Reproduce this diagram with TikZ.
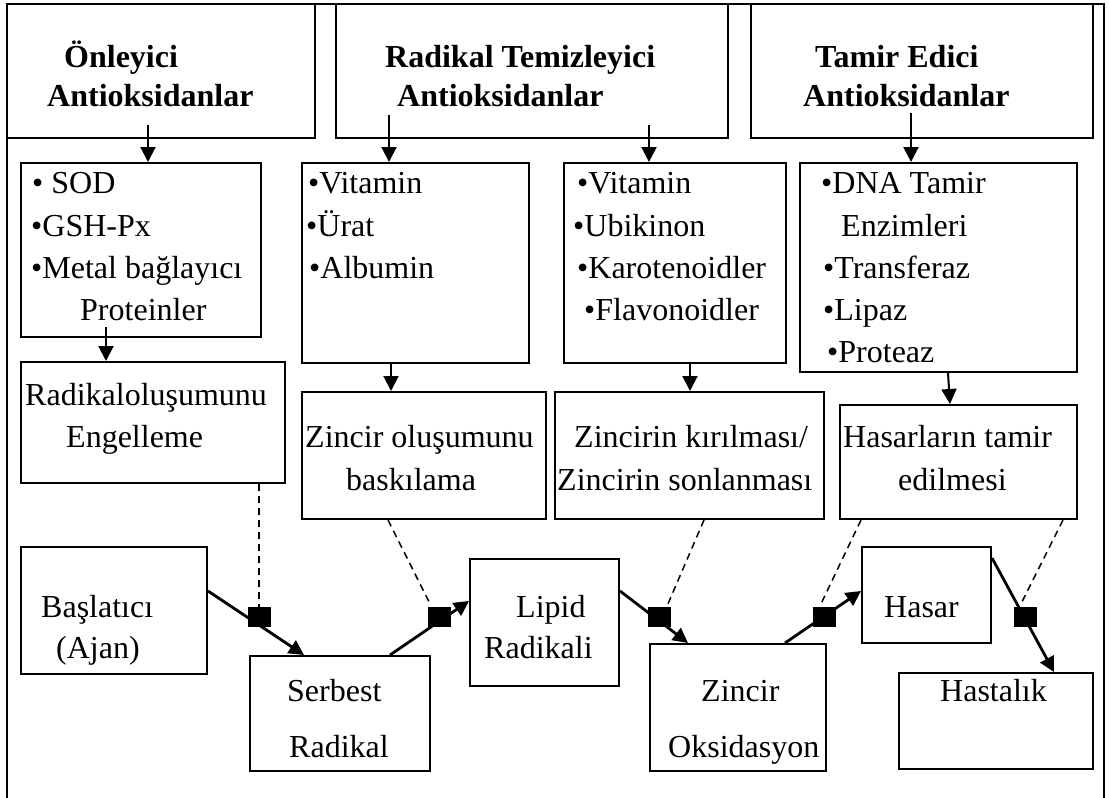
\documentclass[tikz,border=0pt]{standalone}
\usepackage{fontspec}
\setmainfont{Liberation Serif}
\usetikzlibrary{arrows.meta,fit,calc}
\begin{document}
\begin{tikzpicture}[x=1pt,y=-1pt,
  box/.style={draw, line width=2pt, inner sep=0pt},
  txt/.style={anchor=base west, inner sep=0pt, font=\fontsize{32}{38}\selectfont},
  hd/.style={anchor=base west, inner sep=0pt, font=\fontsize{32}{38}\selectfont\bfseries},
  down/.style={line width=2pt, -{Triangle[length=15pt,width=15pt]}},
  flow/.style={line width=2.8pt, -{Triangle[length=15pt,width=15pt]}},
  dsh/.style={line width=1.5pt, dash pattern=on 7pt off 5pt},
  sq/.style={fill=black, minimum width=23pt, minimum height=20pt, inner sep=0pt}]
\useasboundingbox (0,0) rectangle (1109,798);
% outer frame
\draw[line width=2pt] (7,798) -- (7,4) -- (1104,4) -- (1104,798);
% header boxes
\node[box, fit={(7,4)(315,138)}] (H1) {};
\node[box, fit={(336,4)(728,138)}] (H2) {};
\node[box, fit={(751,4)(1093,138)}] (H3) {};
\node[hd] at (64,67) {Önleyici};
\node[hd] at (47,106) {Antioksidanlar};
\node[hd] at (385,67) {Radikal Temizleyici};
\node[hd] at (397,106) {Antioksidanlar};
\node[hd] at (815,67) {Tamir Edici};
\node[hd] at (803,106) {Antioksidanlar};
% list boxes
\node[box, fit={(21,163)(261,337)}] (L1) {};
\node[box, fit={(302,163)(529,363)}] (L2) {};
\node[box, fit={(564,163)(786,363)}] (L3) {};
\node[box, fit={(800,163)(1077,372)}] (L4) {};
\node[txt] at (32,193) {• SOD};
\node[txt] at (31,236) {•GSH-Px};
\node[txt] at (31,278) {•Metal bağlayıcı};
\node[txt] at (80,320) {Proteinler};
\node[txt] at (308,193) {•Vitamin};
\node[txt] at (306,236) {•Ürat};
\node[txt] at (309,278) {•Albumin};
\node[txt] at (577,193) {•Vitamin};
\node[txt] at (573,236) {•Ubikinon};
\node[txt] at (577,278) {•Karotenoidler};
\node[txt] at (584,320) {•Flavonoidler};
\node[txt] at (821,193) {•DNA Tamir};
\node[txt] at (841,236) {Enzimleri};
\node[txt] at (823,278) {•Transferaz};
\node[txt] at (823,320) {•Lipaz};
\node[txt] at (827,362) {•Proteaz};
% result boxes
\node[box, fit={(21,362)(285,483)}] (R1) {};
\node[box, fit={(302,392)(546,519)}] (R2) {};
\node[box, fit={(555,392)(824,519)}] (R3) {};
\node[box, fit={(840,405)(1077,519)}] (R4) {};
\node[txt] at (25,405) {Radikaloluşumunu};
\node[txt] at (66,447) {Engelleme};
\node[txt] at (305,447) {Zincir oluşumunu};
\node[txt] at (346,490) {baskılama};
\node[txt] at (574,447) {Zincirin kırılması/};
\node[txt] at (557,490) {Zincirin sonlanması};
\node[txt] at (843,447) {Hasarların tamir};
\node[txt] at (898,490) {edilmesi};
% bottom chain boxes
\node[box, fit={(21,547)(207,674)}] (B) {};
\node[box, fit={(250,656)(430,771)}] (S) {};
\node[box, fit={(470,559)(619,686)}] (L) {};
\node[box, fit={(650,644)(826,771)}] (Z) {};
\node[box, fit={(862,547)(991,643)}] (H) {};
\node[box, fit={(899,673)(1093,769)}] (K) {};
\node[txt] at (41,617) {Başlatıcı};
\node[txt] at (56,658) {(Ajan)};
\node[txt] at (287,701) {Serbest};
\node[txt] at (289,757) {Radikal};
\node[txt] at (516,617) {Lipid};
\node[txt] at (484,658) {Radikali};
\node[txt] at (701,701) {Zincir};
\node[txt] at (668,757) {Oksidasyon};
\node[txt] at (884,617) {Hasar};
\node[txt] at (940,701) {Hastalık};
% header arrows
\coordinate (a1) at (148,125);
\coordinate (a2) at (389,115);
\coordinate (a3) at (649,125);
\coordinate (a4) at (911,113);
\draw[down] (a1) -- (a1 |- L1.north);
\draw[down] (a2) -- (a2 |- L2.north);
\draw[down] (a3) -- (a3 |- L3.north);
\draw[down] (a4) -- (a4 |- L4.north);
% list -> result arrows
\coordinate (b1) at (106,327);
\coordinate (b2) at (391,0);
\coordinate (b3) at (690,0);
\draw[down] (b1) -- (b1 |- R1.north);
\draw[down] (b2 |- L2.south) -- (b2 |- R2.north);
\draw[down] (b3 |- L3.south) -- (b3 |- R3.north);
\draw[down] ($(L4.south west)+(149,0)$) -- ($(R4.north west)+(111,0)$);
% chain connectors
\draw[flow] ($(B.north east)+(0,45)$) -- ($(S.north west)+(55,0)$);
\draw[flow] ($(S.north west)+(141,0)$) -- ($(L.north west)+(0,43)$);
\draw[flow] ($(L.north east)+(0,33)$) -- ($(Z.north west)+(39,0)$);
\draw[flow] ($(Z.north west)+(136,0)$) -- ($(H.north west)+(0,45)$);
\draw[flow] ($(H.north east)+(0,12)$) -- ($(K.north west)+(156,0)$);
% inhibition squares
\node[sq] (q1) at (259,617) {};
\node[sq] (q2) at (439,617) {};
\node[sq] (q3) at (659,617) {};
\node[sq] (q4) at (824,617) {};
\node[sq] (q5) at (1025,617) {};
% dashed links
\draw[dsh] (q1.north |- R1.south) -- (q1.north);
\draw[dsh] ($(R2.south west)+(87,0)$) -- ($(q2.north)+(-9,-3)$);
\draw[dsh] ($(R3.south west)+(150,0)$) -- ($(q3.north)+(9,-3)$);
\draw[dsh] ($(R4.south west)+(22,0)$) -- ($(q4.north)+(-3,-3)$);
\draw[dsh] ($(R4.south west)+(224,0)$) -- ($(q5.north)+(-4,-3)$);
\end{tikzpicture}
\end{document}
